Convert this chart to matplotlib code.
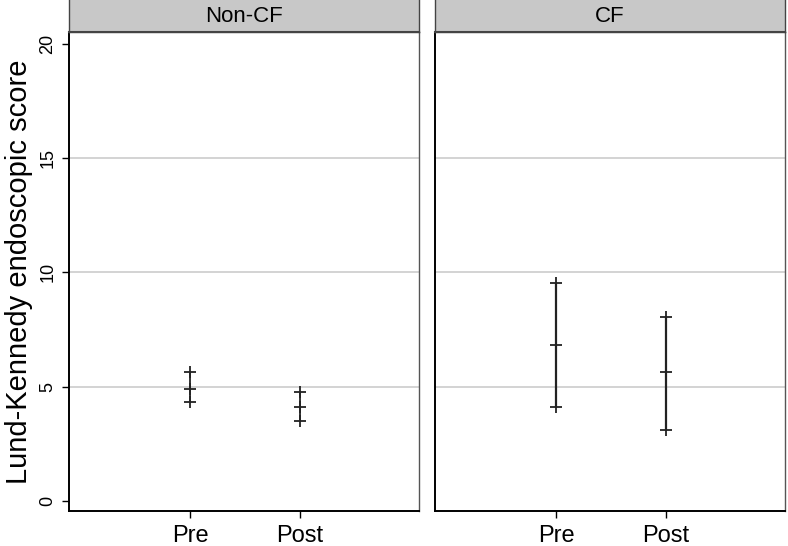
import matplotlib
matplotlib.use("Agg")
import matplotlib.pyplot as plt

plt.rcParams['font.family'] = ['Liberation Sans', 'DejaVu Sans']

groups = ['Non-CF', 'CF']
times = ['Pre', 'Post']
# mean, lower, upper per group (Pre, Post)
means = {'Non-CF': [4.90, 4.12], 'CF': [6.83, 5.63]}
lows = {'Non-CF': [4.31, 3.51], 'CF': [4.12, 3.11]}
highs = {'Non-CF': [5.63, 4.75], 'CF': [9.53, 8.04]}
yticks = [0, 5, 10, 15, 20]

fig = plt.figure(figsize=(7.88, 5.46), dpi=100)
W, H = 788.0, 546.0
panels = [(69, 419), (435, 785)]
ax_bottom, ax_top = 511, 32

for gi, g in enumerate(groups):
    x0, x1 = panels[gi]
    ax = fig.add_axes([x0 / W, 1 - ax_bottom / H, (x1 - x0) / W, (ax_bottom - ax_top) / H])
    xs = [1, 2]
    ax.vlines(xs, lows[g], highs[g], color='#222222', lw=1.6 if g == 'CF' else 1.3)
    for vals in (lows[g], means[g], highs[g]):
        ax.plot(xs, vals, ls='none', marker='+', ms=9, mew=1.3, color='#222222')
    ax.set_xlim(-0.10, 3.08)
    ax.set_ylim(-0.45, 20.53)
    for yv in [5, 10, 15]:
        ax.axhline(yv, color='#cccccc', lw=1.2, zorder=0)
    ax.set_xticks(xs)
    ax.set_xticklabels(times, fontsize=17)
    ax.tick_params(axis='x', length=5, width=1, pad=5)
    ax.set_yticks(yticks)
    if gi == 0:
        ax.set_yticklabels([str(t) for t in yticks], rotation=90, va='center', fontsize=13)
        ax.tick_params(axis='y', length=5, width=1, pad=4)
        ax.set_ylabel('Lund-Kennedy endoscopic score', fontsize=21, labelpad=5)
    else:
        ax.tick_params(axis='y', length=0, labelleft=False)
    for s in ['left', 'bottom']:
        ax.spines[s].set_color('black')
        ax.spines[s].set_linewidth(1.4)
    for s in ['right', 'top']:
        ax.spines[s].set_color('#555555')
        ax.spines[s].set_linewidth(1.0)

    # strip header
    sax = fig.add_axes([x0 / W, 1 - ax_top / H, (x1 - x0) / W, ax_top / H])
    sax.set_facecolor('#c8c8c8')
    sax.set_xticks([])
    sax.set_yticks([])
    for s in sax.spines.values():
        s.set_color('#444444')
        s.set_linewidth(1.0)
    sax.spines['top'].set_visible(False)
    sax.spines['bottom'].set_linewidth(1.5)
    sax.text(0.5, 0.5, g, ha='center', va='center', fontsize=16, transform=sax.transAxes)

fig.savefig('out.png', dpi=100)
